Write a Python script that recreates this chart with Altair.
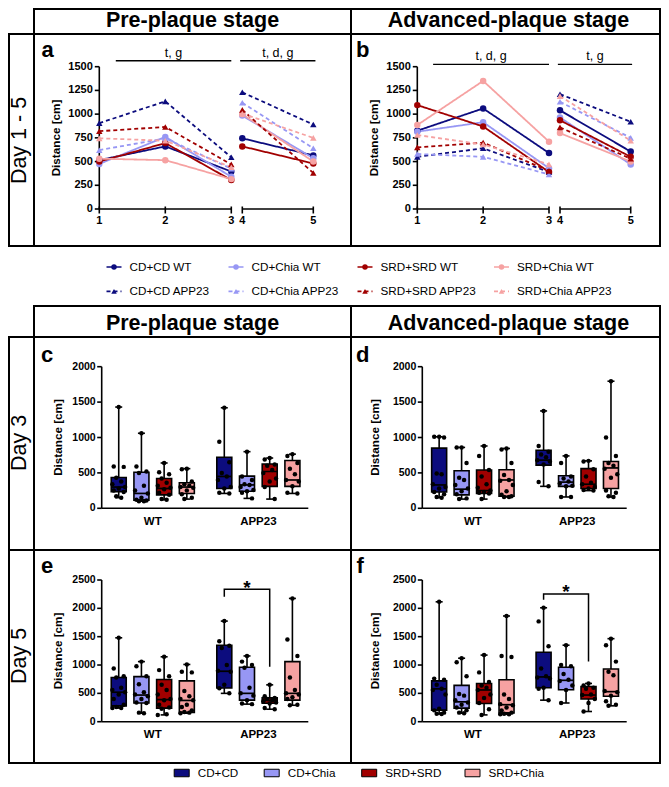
import altair as alt
import pandas as pd

W, H, M = 653, 771, 8
FONT = "Liberation Sans"


def P(v):
    return v - M


DIETS = ["CD+CD", "CD+Chia", "SRD+SRD", "SRD+Chia"]
GENOS = ["WT", "APP23"]
COLORS = ["#0c0c7e", "#9797f4", "#a10000", "#f6a2a2"]
DAYS = [1, 2, 3, 4, 5]
Y_TICKS_LINE = [0, 250, 500, 750, 1000, 1250, 1500]
Y_TICKS_D3 = [0, 500, 1000, 1500, 2000]
Y_TICKS_D5 = [0, 500, 1000, 1500, 2000, 2500]
GROUP_LABELS = ["WT", "APP23"]

# ---- Day 1-5, distance [cm] per day ----
PRE_WT = {
    "CD+CD": [515, 660, 395, 745, 565],
    "CD+Chia": [475, 760, 340, 985, 535],
    "SRD+SRD": [500, 695, 305, 660, 480],
    "SRD+Chia": [530, 515, 315, 1000, 500],
}
PRE_APP = {
    "CD+CD": [905, 1135, 545, 1230, 890],
    "CD+Chia": [620, 745, 425, 1120, 640],
    "SRD+SRD": [820, 865, 470, 1045, 380],
    "SRD+Chia": [745, 720, 440, 1005, 750],
}
ADV_WT = {
    "CD+CD": [825, 1060, 590, 1040, 605],
    "CD+Chia": [815, 915, 430, 965, 470],
    "SRD+SRD": [1095, 870, 390, 935, 550],
    "SRD+Chia": [885, 1350, 710, 800, 500],
}
ADV_APP = {
    "CD+CD": [550, 640, 390, 1210, 920],
    "CD+Chia": [580, 550, 365, 1130, 750],
    "SRD+SRD": [650, 700, 400, 860, 530],
    "SRD+Chia": [780, 680, 470, 1190, 720],
}
PRE_SIG = [("t, g", 1.25, 3.0), ("t, d, g", 3.97, 5.03)]
ADV_SIG = [("t, d, g", 1.24, 3.0), ("t, g", 3.97, 5.02)]

# ---- box stats: min, q1, median, q3, max ----
C_BOX_WT = {"CD+CD": [150, 235, 300, 435, 1430], "CD+Chia": [100, 115, 210, 510, 1060],
            "SRD+SRD": [120, 190, 280, 420, 640], "SRD+Chia": [130, 210, 300, 360, 560]}
C_BOX_APP = {"CD+CD": [210, 280, 450, 720, 1420], "CD+Chia": [140, 240, 330, 455, 800],
             "SRD+SRD": [130, 310, 520, 625, 710], "SRD+Chia": [210, 310, 400, 675, 765]}
C_PTS_WT = {
    "CD+CD": [1430, 590, 585, 430, 380, 340, 300, 280, 250, 230, 170, 150],
    "CD+Chia": [1060, 590, 520, 500, 320, 250, 210, 150, 120, 110, 100, 100],
    "SRD+SRD": [640, 510, 480, 420, 360, 320, 290, 270, 220, 190, 130, 120],
    "SRD+Chia": [560, 550, 380, 340, 320, 300, 290, 250, 200, 150, 130],
}
C_PTS_APP = {
    "CD+CD": [1420, 940, 650, 500, 450, 400, 300, 280, 220, 210],
    "CD+Chia": [800, 450, 400, 340, 330, 300, 260, 240, 220, 140],
    "SRD+SRD": [710, 690, 620, 600, 540, 500, 420, 380, 300, 130],
    "SRD+Chia": [765, 740, 640, 560, 480, 400, 380, 310, 220, 210],
}

D_BOX_WT = {"CD+CD": [150, 230, 330, 850, 1010], "CD+Chia": [130, 190, 270, 530, 860],
            "SRD+SRD": [130, 210, 250, 540, 880], "SRD+Chia": [160, 170, 400, 545, 845]}
D_BOX_APP = {"CD+CD": [310, 610, 680, 820, 1375], "CD+Chia": [160, 310, 370, 460, 740],
             "SRD+SRD": [250, 280, 340, 560, 670], "SRD+Chia": [160, 280, 570, 660, 1795]}
D_PTS_WT = {
    "CD+CD": [1010, 1010, 1000, 490, 480, 340, 300, 280, 230, 200, 160, 150],
    "CD+Chia": [860, 860, 640, 430, 400, 330, 280, 240, 200, 140, 130],
    "SRD+SRD": [880, 740, 540, 450, 340, 290, 250, 230, 220, 210, 130],
    "SRD+Chia": [845, 830, 640, 470, 400, 390, 330, 240, 190, 170, 160, 160],
}
D_PTS_APP = {
    "CD+CD": [1375, 880, 800, 760, 720, 680, 660, 620, 370, 310],
    "CD+Chia": [740, 640, 450, 420, 380, 350, 320, 310, 160, 160],
    "SRD+SRD": [670, 660, 550, 450, 360, 340, 300, 280, 260, 250],
    "SRD+Chia": [1795, 1000, 740, 640, 600, 560, 480, 430, 250, 220, 170, 160],
}

E_BOX_WT = {"CD+CD": [240, 280, 520, 780, 1480], "CD+Chia": [150, 330, 470, 795, 1060],
            "SRD+SRD": [120, 240, 390, 745, 1145], "SRD+Chia": [150, 165, 375, 720, 1010]}
E_BOX_APP = {"CD+CD": [500, 595, 890, 1350, 1775], "CD+Chia": [310, 380, 500, 960, 1160],
             "SRD+SRD": [220, 325, 375, 420, 650], "SRD+Chia": [290, 380, 500, 1060, 2175]}
E_PTS_WT = {
    "CD+CD": [1480, 940, 800, 780, 600, 560, 520, 480, 400, 300, 260, 240, 240],
    "CD+Chia": [1060, 980, 800, 660, 520, 480, 450, 400, 340, 330, 160, 150],
    "SRD+SRD": [1145, 910, 800, 650, 560, 480, 400, 380, 300, 250, 230, 130, 120],
    "SRD+Chia": [1010, 880, 870, 540, 450, 400, 380, 300, 260, 200, 170, 160, 150],
}
E_PTS_APP = {
    "CD+CD": [1775, 1420, 1340, 1300, 1000, 900, 880, 650, 590, 500],
    "CD+Chia": [1160, 1060, 1000, 950, 600, 500, 460, 380, 320, 310],
    "SRD+SRD": [650, 450, 420, 400, 380, 360, 340, 320, 240, 220],
    "SRD+Chia": [2175, 1450, 1160, 780, 560, 500, 480, 430, 400, 300, 290],
}
E_SIG = [2205, 2335, 970]  # left leg end, bar, right leg end

F_BOX_WT = {"CD+CD": [135, 205, 580, 720, 2115], "CD+Chia": [150, 240, 350, 640, 1120],
            "SRD+SRD": [120, 320, 560, 675, 1175], "SRD+Chia": [130, 155, 300, 740, 1865]}
F_BOX_APP = {"CD+CD": [380, 600, 790, 1225, 2010], "CD+Chia": [330, 565, 730, 960, 1350],
             "SRD+SRD": [180, 400, 470, 620, 675], "SRD+Chia": [280, 450, 530, 930, 1465]}
F_PTS_WT = {
    "CD+CD": [2115, 760, 740, 650, 580, 560, 480, 230, 200, 160, 140, 135],
    "CD+Chia": [1120, 1050, 800, 490, 460, 380, 340, 300, 250, 200, 160, 150],
    "SRD+SRD": [1175, 870, 700, 640, 600, 560, 480, 420, 330, 220, 120],
    "SRD+Chia": [1865, 1160, 1140, 480, 400, 310, 290, 250, 200, 160, 140, 130, 130],
}
F_PTS_APP = {
    "CD+CD": [2010, 1770, 1330, 940, 800, 780, 760, 600, 580, 380],
    "CD+Chia": [1350, 1000, 980, 840, 740, 720, 640, 560, 330],
    "SRD+SRD": [675, 640, 600, 580, 480, 470, 400, 330, 180],
    "SRD+Chia": [1465, 1350, 1060, 880, 820, 540, 520, 460, 360, 300, 280],
}
F_SIG = [2150, 2255, 1060]

APP_SHIFT = 4.65
XDOM_BOX = [-0.75, 8.35]
JIT = [0.0, -0.22, 0.22, -0.11, 0.11, -0.28, 0.28]

cs = alt.Scale(domain=DIETS, range=COLORS)
shp = alt.Scale(domain=GENOS, range=["circle", "triangle-up"])
dash = alt.Scale(domain=GENOS, range=[[1, 0], [4, 3]])


def lin(domain, rng):
    return alt.Scale(domain=domain, range=rng, nice=False, zero=False)


def txt(s, x, y, size, weight="normal", align="center", angle=0, baseline="alphabetic"):
    return alt.Chart(pd.DataFrame({"t": [s]})).mark_text(
        text=s, font=FONT, fontSize=size, fontWeight=weight, align=align,
        baseline=baseline, angle=angle, color="black"
    ).encode(x=alt.value(P(x)), y=alt.value(P(y)))


def rule_h(xs, ys, x1, x2, y, w=1.6):
    return alt.Chart(pd.DataFrame({"x": [x1], "x2": [x2], "y": [y]})).mark_rule(
        color="black", strokeWidth=w).encode(
        x=alt.X("x:Q", scale=xs, axis=None), x2="x2:Q", y=alt.Y("y:Q", scale=ys, axis=None))


def rule_v(xs, ys, x, y1, y2):
    return alt.Chart(pd.DataFrame({"x": [x], "y": [y1], "y2": [y2]})).mark_rule(
        color="black", strokeWidth=1.6).encode(
        x=alt.X("x:Q", scale=xs, axis=None), y=alt.Y("y:Q", scale=ys, axis=None), y2="y2:Q")


def y_axis(xs, ys, x, ticks, size, dx):
    df = pd.DataFrame({"x": x, "v": ticks, "lab": [str(t) for t in ticks]})
    tk = alt.Chart(df).mark_tick(orient="horizontal", size=4.5, thickness=1.6, xOffset=-2.25,
                                 color="black", opacity=1).encode(
        x=alt.X("x:Q", scale=xs, axis=None), y=alt.Y("v:Q", scale=ys, axis=None))
    lb = alt.Chart(df).mark_text(align="right", baseline="middle", dx=dx, font=FONT,
                                 fontSize=size, fontWeight="bold", color="black").encode(
        x=alt.X("x:Q", scale=xs, axis=None), y=alt.Y("v:Q", scale=ys, axis=None), text="lab:N")
    return [rule_v(xs, ys, x, ticks[0], ticks[-1]), tk, lb]


def x_axis(xs, ys, x1, x2, pos, labels, size, dy, tick=True):
    df = pd.DataFrame({"p": pos, "y": 0, "lab": labels})
    out = [rule_h(xs, ys, x1, x2, 0)]
    if tick:
        out.append(alt.Chart(df).mark_tick(orient="vertical", size=7, thickness=1.6, yOffset=1,
                                           color="black", opacity=1).encode(
            x=alt.X("p:Q", scale=xs, axis=None), y=alt.Y("y:Q", scale=ys, axis=None)))
    out.append(alt.Chart(df).mark_text(baseline="middle", dy=dy, font=FONT, fontSize=size,
                                       fontWeight="bold", color="black").encode(
        x=alt.X("p:Q", scale=xs, axis=None), y=alt.Y("y:Q", scale=ys, axis=None),
        text="lab:N"))
    return out


def line_panel(wt, app, xpx, sig, sig_y):
    rows = []
    for g, src in (("WT", wt), ("APP23", app)):
        for d in DIETS:
            for day, v in zip(DAYS, src[d]):
                rows.append(dict(day=day, value=v, diet=d, geno=g, series=f"{d} {g}"))
    df = pd.DataFrame(rows)
    ys = lin([0, 1500], [P(209), P(66.7)])
    xs = [lin([1, 3], [P(xpx[0]), P(xpx[1])]), lin([4, 5], [P(xpx[2]), P(xpx[3])])]
    parts = []
    for k, (days, sc) in enumerate(((DAYS[:3], xs[0]), (DAYS[3:], xs[1]))):
        seg = df[df.day.isin(days)]
        layers = []
        if k == 0:
            layers += y_axis(sc, ys, days[0], Y_TICKS_LINE, 11, -6.5)
        layers += x_axis(sc, ys, days[0], days[-1], days, [str(d) for d in days], 11, 11.5)
        base = alt.Chart(seg)
        ln = base.mark_line(strokeWidth=1.8, opacity=1).encode(
            x=alt.X("day:Q", scale=sc, axis=None),
            y=alt.Y("value:Q", scale=ys, axis=None),
            color=alt.Color("diet:N", scale=cs, legend=None),
            strokeDash=alt.StrokeDash("geno:N", scale=dash, legend=None),
            detail="series:N",
        )
        pt = base.mark_point(filled=True, size=42, opacity=1).encode(
            x=alt.X("day:Q", scale=sc, axis=None),
            y=alt.Y("value:Q", scale=ys, axis=None),
            color=alt.Color("diet:N", scale=cs, legend=None),
            shape=alt.Shape("geno:N", scale=shp, legend=None),
        )
        s = sig[k]
        sdf = pd.DataFrame({"xm": [(s[1] + s[2]) / 2], "y": [sig_y], "label": [s[0]]})
        rl = rule_h(sc, ys, s[1], s[2], sig_y, 1.4)
        tx = alt.Chart(sdf).mark_text(font=FONT, fontSize=12.5, dy=-4, baseline="alphabetic",
                                      color="black").encode(
            x=alt.X("xm:Q", scale=sc, axis=None), y=alt.Y("y:Q", scale=ys, axis=None),
            text="label:N")
        layers += [ln, pt, rl, tx]
        parts.append(alt.layer(*layers))
    return parts


def box_panel(box_wt, box_app, pts_wt, pts_app, xr, yr, yticks, sig=None):
    srows, prows = [], []
    for g, boxes, pts in (("WT", box_wt, pts_wt), ("APP23", box_app, pts_app)):
        for i, d in enumerate(DIETS):
            pos = i + (0 if g == "WT" else APP_SHIFT)
            mn, q1, md, q3, mx = boxes[d]
            srows.append(dict(pos=pos, diet=d, geno=g, mn=mn, q1=q1, md=md, q3=q3, mx=mx))
            for j, v in enumerate(pts[d]):
                prows.append(dict(xp=pos + JIT[j % len(JIT)], value=v))
    stats = pd.DataFrame(srows)
    pdf = pd.DataFrame(prows)
    xs = lin(XDOM_BOX, [P(xr[0]), P(xr[1])])
    ys = lin([yticks[0], yticks[-1]], [P(yr[0]), P(yr[1])])
    X = lambda f: alt.X(f, scale=xs, axis=None)
    Y = lambda f: alt.Y(f, scale=ys, axis=None)
    base = alt.Chart(stats)
    whisk = base.mark_rule(color="black", strokeWidth=1.6).encode(
        x=X("pos:Q"), y=Y("mn:Q"), y2="mx:Q")
    box = base.mark_bar(size=15, stroke="black", strokeWidth=1.6, opacity=1).encode(
        x=X("pos:Q"), y=Y("q1:Q"), y2="q3:Q",
        color=alt.Color("diet:N", scale=cs, legend=None))
    med = base.mark_tick(orient="horizontal", size=15, thickness=1.7, color="black",
                         opacity=1).encode(x=X("pos:Q"), y=Y("md:Q"))
    cap1 = base.mark_tick(orient="horizontal", size=7, thickness=1.6, color="black",
                          opacity=1).encode(x=X("pos:Q"), y=Y("mn:Q"))
    cap2 = base.mark_tick(orient="horizontal", size=7, thickness=1.6, color="black",
                          opacity=1).encode(x=X("pos:Q"), y=Y("mx:Q"))
    dots = alt.Chart(pdf).mark_circle(size=20, color="black", opacity=1).encode(
        x=X("xp:Q"), y=Y("value:Q"))
    layers = y_axis(xs, ys, XDOM_BOX[0], yticks, 10.5, -6)
    layers += x_axis(xs, ys, XDOM_BOX[0], XDOM_BOX[1], [1.5, APP_SHIFT + 1.5], GROUP_LABELS,
                     11.5, 13.4, tick=False)
    layers += [whisk, box, med, cap1, cap2, dots]
    if sig is not None:
        a, b = APP_SHIFT, APP_SHIFT + 2
        bdf = pd.DataFrame({"x": [a, a, b, b], "y": [sig[0], sig[1], sig[1], sig[2]],
                            "o": [0, 1, 2, 3]})
        br = alt.Chart(bdf).mark_line(color="black", strokeWidth=1.5, opacity=1).encode(
            x=X("x:Q"), y=Y("y:Q"), order="o:Q")
        sdf = pd.DataFrame({"x": [(a + b) / 2], "y": [sig[1]], "t": ["*"]})
        st = alt.Chart(sdf).mark_text(font=FONT, fontSize=19, fontWeight="bold", dy=4.5,
                                      baseline="alphabetic", color="black").encode(
            x=X("x:Q"), y=Y("y:Q"), text="t:N")
        layers += [br, st]
    return alt.layer(*layers)


# ---- frames (image pixel layout) ----
FRAMES = pd.DataFrame(
    [(34, 9, 351, 34), (351, 9, 660, 34),
     (9, 34, 34, 246), (34, 34, 351, 246), (351, 34, 660, 246),
     (34, 306, 351, 337), (351, 306, 660, 337),
     (9, 337, 34, 550), (34, 337, 351, 550), (351, 337, 660, 550),
     (9, 550, 34, 763), (34, 550, 351, 763), (351, 550, 660, 763)],
    columns=["x1", "y1", "x2", "y2"])
fx = lin([M, W + M], [0, W])
fy = lin([M, H + M], [0, H])
frames = alt.Chart(FRAMES).mark_rect(fillOpacity=0, stroke="black", strokeWidth=2).encode(
    x=alt.X("x1:Q", scale=fx, axis=None), x2="x2:Q",
    y=alt.Y("y1:Q", scale=fy, axis=None), y2="y2:Q")

texts = [
    txt("Pre-plaque stage", 192.5, 27, 21.5, "bold"),
    txt("Advanced-plaque stage", 508.5, 27, 21.5, "bold"),
    txt("Pre-plaque stage", 192.5, 329.5, 21.5, "bold"),
    txt("Advanced-plaque stage", 508.5, 329.5, 21.5, "bold"),
    txt("Day 1 - 5", 26, 140.5, 21.5, angle=270),
    txt("Day 3", 26, 443, 21.5, angle=270),
    txt("Day 5", 26, 656, 21.5, angle=270),
    txt("a", 41.5, 57, 22, "bold", "left"),
    txt("b", 356, 57, 22, "bold", "left"),
    txt("c", 41, 361.7, 22, "bold", "left"),
    txt("d", 356, 361.7, 22, "bold", "left"),
    txt("e", 41, 573.3, 22, "bold", "left"),
    txt("f", 356.5, 573.3, 22, "bold", "left"),
    txt("Distance [cm]", 56, 138, 11.7, "bold", angle=270, baseline="middle"),
    txt("Distance [cm]", 373.5, 138, 11.7, "bold", angle=270, baseline="middle"),
    txt("Distance [cm]", 57.7, 437.5, 11.7, "bold", angle=270, baseline="middle"),
    txt("Distance [cm]", 375, 437.5, 11.7, "bold", angle=270, baseline="middle"),
    txt("Distance [cm]", 57.7, 651, 11.7, "bold", angle=270, baseline="middle"),
    txt("Distance [cm]", 375, 651, 11.7, "bold", angle=270, baseline="middle"),
]

pa = line_panel(PRE_WT, PRE_APP, (99.3, 231.3, 242.3, 313.3), PRE_SIG, 1563)
pb = line_panel(ADV_WT, ADV_APP, (417.3, 549, 560, 630.7), ADV_SIG, 1525)

pc = box_panel(C_BOX_WT, C_BOX_APP, C_PTS_WT, C_PTS_APP, (96.7, 313.3), (508.3, 366.7), Y_TICKS_D3)
pd_ = box_panel(D_BOX_WT, D_BOX_APP, D_PTS_WT, D_PTS_APP, (417.3, 631.7), (508.3, 366.7), Y_TICKS_D3)
pe = box_panel(E_BOX_WT, E_BOX_APP, E_PTS_WT, E_PTS_APP, (96.7, 313.3), (721.7, 580), Y_TICKS_D5, E_SIG)
pf = box_panel(F_BOX_WT, F_BOX_APP, F_PTS_WT, F_PTS_APP, (417.3, 631.7), (721.7, 580), Y_TICKS_D5, F_SIG)

# ---- legend 1 (line series) ----
leg1 = pd.DataFrame([dict(col=i, row=j, diet=d, geno=g, label=f"{d} {g}")
                     for j, g in enumerate(GENOS) for i, d in enumerate(DIETS)])
lx = lin([0, 1, 2, 3], [P(114), P(236), P(365), P(501.5)])
ly = lin([0, 1], [P(267), P(291.4)])
LX = alt.X("col:Q", scale=lx, axis=None)
LY = alt.Y("row:Q", scale=ly, axis=None)
l1a = alt.Chart(leg1).mark_point(shape="stroke", size=225, strokeWidth=1.6, filled=False,
                                 opacity=1).encode(
    x=LX, y=LY, color=alt.Color("diet:N", scale=cs, legend=None),
    strokeDash=alt.StrokeDash("geno:N", scale=dash, legend=None))
l1b = alt.Chart(leg1).mark_point(filled=True, size=30, opacity=1).encode(
    x=LX, y=LY, color=alt.Color("diet:N", scale=cs, legend=None),
    shape=alt.Shape("geno:N", scale=shp, legend=None))
l1c = alt.Chart(leg1).mark_text(align="left", dx=15.5, font=FONT, fontSize=11.7,
                                color="black").encode(x=LX, y=LY, text="label:N")
legend1 = alt.layer(l1a, l1b, l1c)

# ---- legend 2 (box groups) ----
leg2 = pd.DataFrame({"col": list(range(4)), "diet": DIETS})
bx = lin([0, 1, 2, 3], [P(181.7), P(271.7), P(369.2), P(472.5)])
BX = alt.X("col:Q", scale=bx, axis=None)
l2a = alt.Chart(leg2).mark_point(shape="M-1,-0.5L1,-0.5L1,0.5L-1,0.5Z", size=225, filled=True,
                                 stroke="black", strokeWidth=1, opacity=1).encode(
    x=BX, y=alt.value(P(773)), color=alt.Color("diet:N", scale=cs, legend=None))
l2b = alt.Chart(leg2).mark_text(align="left", dx=16, font=FONT, fontSize=11.7,
                                color="black").encode(x=BX, y=alt.value(P(773)), text="diet:N")
legend2 = alt.layer(l2a, l2b)

chart = alt.layer(
    frames, *texts, *pa, *pb, legend1, pc, pd_, pe, pf, legend2
).resolve_scale(
    x="independent", y="independent"
).properties(
    width=W, height=H, padding=0, autosize=alt.AutoSizeParams(type="none")
).configure_view(strokeWidth=0)

chart.save("out.html", embed_options={"renderer": "svg", "actions": False})
